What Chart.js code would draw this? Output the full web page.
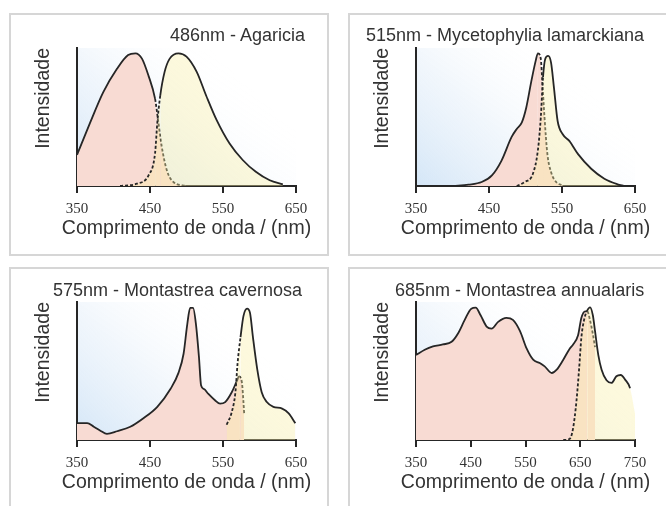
<!DOCTYPE html>
<html>
<head>
<meta charset="utf-8">
<script src="https://cdn.jsdelivr.net/npm/chart.js@4.4.0/dist/chart.umd.min.js"></script>
<style>
  body { margin: 0; width: 666px; height: 506px; overflow: hidden; background: #fff; position: relative; }
  .box { position: absolute; border: 2px solid #d6d6d6; box-sizing: border-box; }
  canvas { position: absolute; }
  .title { position: absolute; font-family: "Liberation Sans", Arial, sans-serif; font-size: 18px; line-height: 1; color: #333; white-space: nowrap; }
</style>
</head>
<body>
<div class="box" style="left:9px;top:13px;width:320px;height:243px"></div>
<div class="box" style="left:348px;top:13px;width:330px;height:243px"></div>
<div class="box" style="left:9px;top:267px;width:320px;height:260px"></div>
<div class="box" style="left:348px;top:267px;width:330px;height:260px"></div>

<canvas id="c1" width="320" height="243" style="left:9px;top:13px"></canvas>
<canvas id="c2" width="320" height="243" style="left:348px;top:13px"></canvas>
<canvas id="c3" width="320" height="243" style="left:9px;top:267px"></canvas>
<canvas id="c4" width="320" height="243" style="left:348px;top:267px"></canvas>

<div class="title" id="t1" style="right:361px;top:26px"></div>
<div class="title" id="t2" style="left:366px;top:26px"></div>
<div class="title" id="t3" style="left:53px;top:281px"></div>
<div class="title" id="t4" style="left:395px;top:281px"></div>

<script>
// panel titles
const titles = ['486nm - Agaricia', '515nm - Mycetophylia lamarckiana', '575nm - Montastrea cavernosa', '685nm - Montastrea annualaris'];
const xTitle = 'Comprimento de onda / (nm)';
const yTitle = 'Intensidade';

// 486nm - Agaricia
const agaExcWl = [350, 368, 386, 405, 420, 430, 439, 448, 457, 461, 466, 473, 482, 500];
const agaExcInt = [0.235, 0.477, 0.707, 0.885, 0.987, 1.0, 0.96, 0.83, 0.656, 0.5, 0.3, 0.12, 0.03, 0];
const agaEmWl = [409, 432, 448, 457, 460, 464, 470, 477, 489, 500, 514, 527, 541, 559, 577, 595, 614, 632];
const agaEmInt = [0, 0.018, 0.08, 0.25, 0.477, 0.68, 0.86, 0.96, 1.0, 0.975, 0.86, 0.68, 0.5, 0.32, 0.196, 0.107, 0.043, 0.013];

// 515nm - Mycetophylia lamarckiana
const mycExcWl = [401, 422, 440, 454, 467, 481, 488, 495, 501, 508, 514, 517, 521, 523, 526, 530, 535, 542, 551];
const mycExcInt = [0, 0.01, 0.03, 0.08, 0.19, 0.37, 0.43, 0.48, 0.59, 0.79, 0.945, 1.0, 0.957, 0.79, 0.52, 0.24, 0.105, 0.03, 0.005];
const mycEmWl = [488, 499, 510, 517, 521, 524, 527, 531, 535, 539, 544, 551, 560, 572, 590, 608, 626, 635];
const mycEmInt = [0, 0.03, 0.09, 0.27, 0.52, 0.82, 0.957, 0.98, 0.93, 0.74, 0.49, 0.39, 0.34, 0.24, 0.13, 0.055, 0.013, 0];

// 575nm - Montastrea cavernosa
const cavExcWl = [350, 364, 373, 382, 391, 405, 423, 441, 460, 478, 489, 496, 501, 505, 509, 513, 517, 520, 524, 530, 539, 546, 553, 562, 569, 572, 576, 578, 579];
const cavExcInt = [0.127, 0.127, 0.1, 0.07, 0.046, 0.066, 0.1, 0.164, 0.25, 0.384, 0.506, 0.65, 0.87, 0.995, 0.995, 0.87, 0.63, 0.41, 0.384, 0.347, 0.3, 0.274, 0.286, 0.36, 0.445, 0.48, 0.43, 0.286, 0.2];
const cavEmWl = [555, 562, 567, 570, 574, 578, 583, 587, 591, 597, 603, 610, 619, 631, 640, 649];
const cavEmInt = [0.115, 0.21, 0.36, 0.58, 0.775, 0.934, 0.99, 0.958, 0.775, 0.53, 0.36, 0.286, 0.25, 0.237, 0.2, 0.127];

// 685nm - Montastrea annualaris
const annExcWl = [350, 366, 381, 399, 415, 427, 439, 451, 459, 468, 479, 488, 500, 515, 527, 540, 552, 564, 576, 585, 598, 607, 619, 631, 637, 646, 652, 659, 663, 668, 673, 677];
const annExcInt = [0.64, 0.68, 0.705, 0.72, 0.74, 0.805, 0.905, 0.99, 0.997, 0.94, 0.855, 0.84, 0.89, 0.92, 0.905, 0.82, 0.69, 0.605, 0.58, 0.555, 0.505, 0.53, 0.605, 0.69, 0.72, 0.79, 0.92, 0.97, 0.97, 0.9, 0.8, 0.7];
const annEmWl = [619, 631, 637, 643, 648, 652, 657, 662, 668, 673, 677, 683, 689, 698, 707, 716, 724, 732, 741, 750];
const annEmInt = [0, 0.01, 0.09, 0.29, 0.54, 0.77, 0.905, 0.97, 1.0, 0.94, 0.82, 0.64, 0.53, 0.45, 0.43, 0.48, 0.49, 0.455, 0.39, 0.2];

const ticks350 = [350, 450, 550, 650];
const ticks750 = [350, 450, 550, 650, 750];

const lineColor = '#262626';
const textColor = '#333';
const pinkFill = 'rgb(248, 219, 211)';
const yellowFill = 'rgba(250, 238, 165, 0.38)';
const sansFont = '"Liberation Sans", Arial, sans-serif';

const skyGlow = {
    id: 'skyGlow',
    beforeDraw(chart) {
        const { ctx, chartArea: a } = chart;
        const g = ctx.createLinearGradient(a.left, a.bottom, a.left + a.width * 0.6, a.top);
        g.addColorStop(0, 'rgba(212, 230, 247, 1)');
        g.addColorStop(0.5, 'rgba(232, 241, 250, 0.6)');
        g.addColorStop(1, 'rgba(255, 255, 255, 0)');
        ctx.save();
        ctx.fillStyle = g;
        ctx.fillRect(a.left, a.top, a.width, a.height);
        ctx.restore();
    }
};

// x axis caption drawn without the scale's width limit
const xCaption = {
    id: 'xCaption',
    afterDraw(chart) {
        const { ctx, chartArea: a } = chart;
        ctx.save();
        ctx.font = '19.5px ' + sansFont;
        ctx.fillStyle = textColor;
        ctx.textAlign = 'center';
        ctx.textBaseline = 'middle';
        ctx.fillText(xTitle, (a.left + a.right) / 2, chart.height - 27);
        ctx.restore();
    }
};

const toPoints = (xs, ys) => xs.map((x, i) => ({ x: x, y: ys[i] }));

// dash: range of wavelengths drawn dashed; hide: range with no line
const segStyle = (dash, hide) => ({
    borderDash: c => {
        const m = (c.p0.parsed.x + c.p1.parsed.x) / 2;
        return dash && m >= dash[0] && m <= dash[1] ? [3, 2] : undefined;
    },
    borderColor: c => {
        const m = (c.p0.parsed.x + c.p1.parsed.x) / 2;
        return hide && m >= hide[0] && m <= hide[1] ? 'rgba(0,0,0,0)' : undefined;
    }
});

const makePanel = (id, p) => {
    new Chart(document.getElementById(id), {
        type: 'line',
        data: {
            datasets: [{
                label: 'Excitação',
                data: toPoints(p.excWl, p.excInt),
                borderColor: lineColor,
                backgroundColor: pinkFill,
                fill: 'origin',
                order: 2,
                segment: segStyle(p.excDash, null)
            }, {
                label: 'Emissão',
                data: toPoints(p.emWl, p.emInt),
                borderColor: lineColor,
                backgroundColor: yellowFill,
                fill: 'origin',
                order: 1,
                segment: segStyle(p.emDash, p.emHide)
            }]
        },
        options: {
            responsive: false,
            animation: false,
            layout: { padding: { left: 0, right: 33, top: 35, bottom: 0 } },
            elements: {
                point: { radius: 0 },
                line: { borderWidth: 1.8, cubicInterpolationMode: 'monotone' }
            },
            plugins: {
                legend: { display: false },
                tooltip: { enabled: false }
            },
            scales: {
                x: {
                    type: 'linear',
                    min: p.ticks[0],
                    max: p.ticks[p.ticks.length - 1],
                    afterBuildTicks: s => { s.ticks = p.ticks.map(v => ({ value: v })); },
                    afterFit: s => { s.height = 70; },
                    grid: { drawOnChartArea: false, drawTicks: true, tickLength: 7, color: lineColor, lineWidth: 2 },
                    border: { display: true, color: lineColor, width: 2 },
                    ticks: {
                        color: textColor,
                        autoSkip: false,
                        maxRotation: 0,
                        padding: 7,
                        font: { family: '"Liberation Serif", "Times New Roman", serif', size: 15 }
                    },
                    title: { display: false }
                },
                y: {
                    min: 0,
                    max: 1.04,
                    afterFit: s => { s.width = 68; },
                    grid: { display: true, drawOnChartArea: false, drawTicks: false },
                    border: { display: true, color: lineColor, width: 2 },
                    ticks: { display: false },
                    title: {
                        display: true,
                        text: yTitle,
                        align: 'end',
                        color: textColor,
                        font: { family: sansFont, size: 19.5 },
                        padding: { top: 23, bottom: 0 }
                    }
                }
            }
        },
        plugins: [skyGlow, xCaption]
    });
};

makePanel('c1', { excWl: agaExcWl, excInt: agaExcInt, emWl: agaEmWl, emInt: agaEmInt, ticks: ticks350, excDash: [458, 700], emDash: [0, 462] });
makePanel('c2', { excWl: mycExcWl, excInt: mycExcInt, emWl: mycEmWl, emInt: mycEmInt, ticks: ticks350, excDash: [518, 700], emDash: [0, 525] });
makePanel('c3', { excWl: cavExcWl, excInt: cavExcInt, emWl: cavEmWl, emInt: cavEmInt, ticks: ticks350, excDash: [572, 700], emDash: [0, 575] });
makePanel('c4', { excWl: annExcWl, excInt: annExcInt, emWl: annEmWl, emInt: annEmInt, ticks: ticks750, excDash: [663, 800], emDash: [0, 660], emHide: [742, 800] });

titles.forEach((t, i) => { document.getElementById('t' + (i + 1)).textContent = t; });
</script>
</body>
</html>
